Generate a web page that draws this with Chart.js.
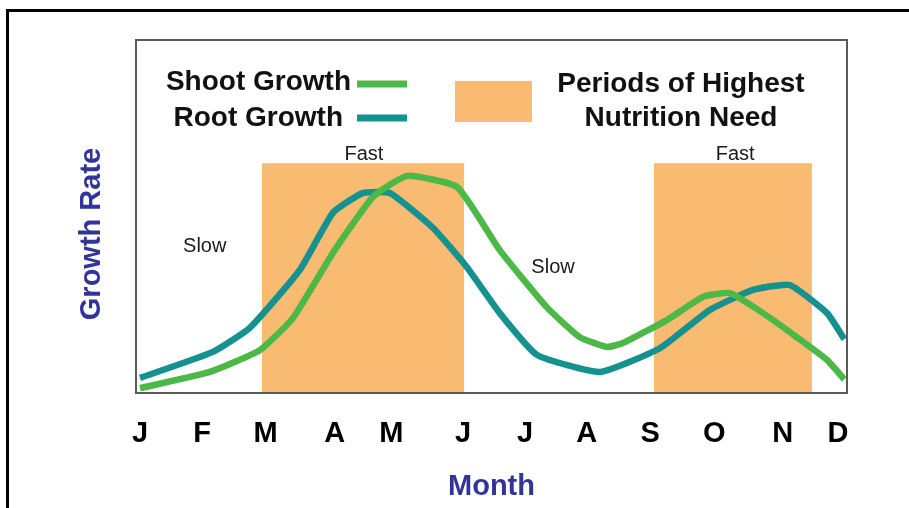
<!DOCTYPE html>
<html>
<head>
<meta charset="utf-8">
<script src="https://cdn.jsdelivr.net/npm/chart.js@4.4.0/dist/chart.umd.min.js"></script>
<style>
html,body{margin:0;padding:0;background:#fff;}
#wrap{width:909px;height:508px;position:relative;}
</style>
</head>
<body>
<div id="wrap"><canvas id="c" width="909" height="508"></canvas></div>
<script>
// ---- data ----
const monthLabels = ['J','F','M','A','M','J','J','A','S','O','N','D'];
const monthTicks  = [0, 0.98, 1.98, 3.07, 3.96, 5.09, 6.07, 7.04, 8.04, 9.05, 10.13, 11.0];

const shootX = [0, 1.10, 1.89, 2.41, 3.04, 3.67, 4.21, 5.00, 5.67, 6.41, 6.93, 7.36, 7.61, 8.31, 8.87, 9.30, 9.82, 10.35, 10.83, 11.10];
const shootY = [1.1, 5.7, 11.9, 21.0, 39.5, 55.4, 61.4, 58.2, 40.3, 24.1, 15.6, 12.8, 13.9, 20.5, 27.0, 28.1, 22.4, 15.6, 9.1, 3.6];

const rootX = [0, 1.15, 1.73, 2.52, 3.04, 3.51, 3.94, 4.62, 5.15, 5.67, 6.26, 7.25, 8.20, 8.98, 9.66, 10.24, 10.83, 11.10];
const rootY = [4.0, 11.4, 18.2, 34.7, 50.9, 56.5, 56.5, 46.6, 35.5, 22.4, 10.5, 5.7, 12.5, 23.3, 29.0, 30.4, 22.4, 15.0];

const nutritionPeriods = [[1.92, 5.11], [8.10, 10.59]];
const nutritionLevel = 65;

const annotations = [
  {text:'Fast', x:3.53, y:67.6},
  {text:'Fast', x:9.38, y:67.6},
  {text:'Slow', x:1.02, y:41.2},
  {text:'Slow', x:6.51, y:35.5}
];

const yAxisTitle = 'Growth Rate';

const GREEN = '#4cb848';
const TEAL  = '#15918f';
const ORANGE = '#f9bb72';
const NAVY = '#33349a';

function pts(xs, ys){ return xs.map((x,i)=>({x:x, y:ys[i]})); }
function rectPts(p){ return [{x:p[0],y:0},{x:p[0],y:nutritionLevel},{x:p[1],y:nutritionLevel},{x:p[1],y:0}]; }

const decor = {
  id:'decor',
  beforeDraw(chart){
    const ctx = chart.ctx;
    ctx.save();
    ctx.strokeStyle = '#000';
    ctx.lineWidth = 3;
    ctx.beginPath();
    ctx.moveTo(7.5, 509);
    ctx.lineTo(7.5, 10.5);
    ctx.lineTo(910, 10.5);
    ctx.stroke();
    ctx.restore();
  },
  afterDatasetsDraw(chart){
    const ctx = chart.ctx, a = chart.chartArea;
    ctx.save();
    ctx.strokeStyle = '#5a5a5a';
    ctx.lineWidth = 2;
    ctx.strokeRect(a.left, a.top, a.right - a.left, a.bottom - a.top + 1);
    ctx.restore();
  },
  afterDraw(chart){
    const ctx = chart.ctx;
    const xs = chart.scales.x, ys = chart.scales.y;
    ctx.save();
    // y axis title
    ctx.save();
    ctx.translate(92, 234);
    ctx.rotate(-Math.PI/2);
    ctx.fillStyle = NAVY;
    ctx.font = 'bold 29px "Liberation Sans", Arial, sans-serif';
    ctx.textAlign = 'center';
    ctx.textBaseline = 'middle';
    ctx.fillText(yAxisTitle, 0, 0);
    ctx.restore();
    // annotations
    ctx.fillStyle = '#1a1a1a';
    ctx.font = '20px "Liberation Sans", Arial, sans-serif';
    ctx.textAlign = 'center';
    ctx.textBaseline = 'middle';
    annotations.forEach(an=>{
      ctx.fillText(an.text, xs.getPixelForValue(an.x), ys.getPixelForValue(an.y));
    });
    // legend
    ctx.fillStyle = '#111';
    ctx.font = 'bold 28px "Liberation Sans", Arial, sans-serif';
    ctx.textAlign = 'right';
    ctx.textBaseline = 'alphabetic';
    ctx.fillText('Shoot Growth', 351, 90);
    ctx.fillText('Root Growth', 343, 126);
    ctx.lineWidth = 7;
    ctx.strokeStyle = GREEN;
    ctx.beginPath(); ctx.moveTo(357, 84); ctx.lineTo(407, 84); ctx.stroke();
    ctx.strokeStyle = TEAL;
    ctx.beginPath(); ctx.moveTo(357, 118); ctx.lineTo(407, 118); ctx.stroke();
    ctx.fillStyle = ORANGE;
    ctx.fillRect(455, 81, 77, 41);
    ctx.fillStyle = '#111';
    ctx.textAlign = 'center';
    ctx.fillText('Periods of Highest', 681, 92);
    ctx.fillText('Nutrition Need', 681, 126);
    ctx.restore();
  }
};

new Chart(document.getElementById('c'), {
  type:'line',
  data:{
    datasets:[
      {label:'Shoot Growth', data:pts(shootX, shootY), borderColor:GREEN, borderWidth:6.5, pointRadius:0, tension:0.15, fill:false, order:1, borderJoinStyle:'round'},
      {label:'Root Growth', data:pts(rootX, rootY), borderColor:TEAL, borderWidth:6.5, pointRadius:0, tension:0.15, fill:false, order:2, borderJoinStyle:'round'},
      {label:'Periods of Highest Nutrition Need', data:rectPts(nutritionPeriods[0]), borderWidth:0, borderColor:'rgba(0,0,0,0)', backgroundColor:ORANGE, fill:'origin', pointRadius:0, tension:0, order:10},
      {label:'Periods of Highest Nutrition Need 2', data:rectPts(nutritionPeriods[1]), borderWidth:0, borderColor:'rgba(0,0,0,0)', backgroundColor:ORANGE, fill:'origin', pointRadius:0, tension:0, order:10}
    ]
  },
  options:{
    responsive:false,
    animation:false,
    devicePixelRatio:1,
    layout:{padding:{left:0, top:40, right:62, bottom:0}},
    plugins:{legend:{display:false}, tooltip:{enabled:false}},
    scales:{
      x:{
        type:'linear',
        min:-0.063, max:11.143,
        grid:{display:false, drawTicks:false},
        border:{display:false},
        afterBuildTicks(s){ s.ticks = monthTicks.map(v=>({value:v})); },
        afterFit(s){ s.height = 116; },
        ticks:{
          autoSkip:false, maxRotation:0,
          padding:25,
          color:'#000',
          font:{family:'"Liberation Sans", Arial, sans-serif', size:29, weight:'bold'},
          callback(v, i){ return monthLabels[i]; }
        },
        title:{display:true, text:'Month', color:NAVY, padding:{top:0, bottom:4},
          font:{family:'"Liberation Sans", Arial, sans-serif', size:29, weight:'bold'}}
      },
      y:{
        min:0, max:100,
        grid:{display:false, drawTicks:false},
        border:{display:false},
        ticks:{display:false},
        afterFit(s){ s.width = 136; },
        title:{display:false, text:yAxisTitle}
      }
    }
  },
  plugins:[decor]
});
</script>
</body>
</html>
